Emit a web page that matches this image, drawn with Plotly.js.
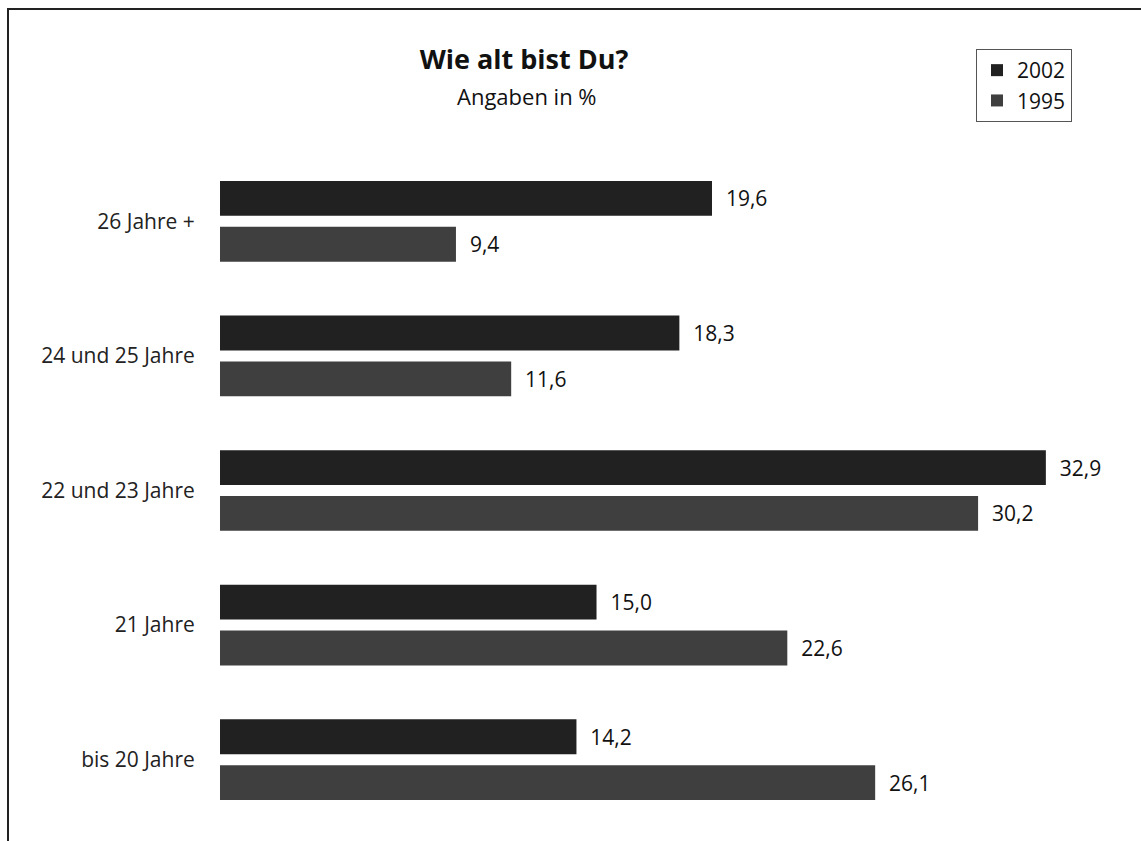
<!DOCTYPE html>
<html>
<head>
<meta charset="utf-8">
<script src="https://cdn.plot.ly/plotly-3.0.1.min.js"></script>
<style>
  html, body { margin: 0; padding: 0; background: #fff; }
  #wrap { position: relative; width: 1141px; height: 841px; overflow: hidden; }
  #chart { position: absolute; left: 0; top: 0; width: 1141px; height: 841px; }
  #frame { position: absolute; left: 7px; top: 8px; width: 1140px; height: 840px;
           border-top: 2px solid #222; border-left: 2px solid #222; pointer-events: none; }
</style>
</head>
<body>
<div id="wrap">
  <div id="chart"></div>
  <div id="frame"></div>
</div>
<script>
// Data
const categories = ["26 Jahre +", "24 und 25 Jahre", "22 und 23 Jahre", "21 Jahre", "bis 20 Jahre"];
const values2002 = [19.6, 18.3, 32.9, 15.0, 14.2];
const values1995 = [9.4, 11.6, 30.2, 22.6, 26.1];
const seriesNames = ["2002", "1995"];

const fmt = v => "\u00a0\u00a0" + v.toFixed(1).replace(".", ",");
const FONT = "Open Sans, Noto Sans, sans-serif";

const traces = [
  {
    type: "bar", orientation: "h", name: seriesNames[0], legendgroup: "a",
    y: categories, x: values2002,
    text: values2002.map(fmt), textposition: "outside", cliponaxis: false,
    textfont: { family: FONT, size: 21, color: "#111" },
    marker: { color: "#212121" }, hoverinfo: "skip"
  },
  {
    type: "bar", orientation: "h", name: seriesNames[1], legendgroup: "b",
    y: categories, x: values1995,
    text: values1995.map(fmt), textposition: "outside", cliponaxis: false,
    textfont: { family: FONT, size: 21, color: "#111" },
    marker: { color: "#3f3f3f" }, hoverinfo: "skip"
  }
];

const layout = {
  width: 1141, height: 841,
  margin: { l: 220, r: 0, t: 153.6, b: 13.6, autoexpand: false },
  paper_bgcolor: "#fff", plot_bgcolor: "#fff",
  barmode: "group", bargap: 0.319, bargroupgap: 0.239,
  showlegend: true,
  font: { family: FONT, color: "#222" },
  title: {
    text: "<b>Wie alt bist Du?</b>",
    font: { family: FONT, size: 27, color: "#111" },
    xref: "container", yref: "container",
    x: 524 / 1141, xanchor: "center",
    y: 1 - 60 / 841, yanchor: "middle"
  },
  annotations: [{
    text: "Angaben in %", showarrow: false,
    xref: "paper", yref: "paper",
    x: (527 - 220) / 921, y: (827.4 - 96) / 673.8,
    xanchor: "center", yanchor: "middle",
    font: { family: FONT, size: 22, color: "#111" }
  }],
  legend: {
    xref: "container", yref: "container",
    x: 976 / 1141, y: 1 - 49 / 841, xanchor: "left", yanchor: "top",
    bordercolor: "#555", borderwidth: 1, bgcolor: "#fff",
    font: { family: FONT, size: 21, color: "#111" },
    traceorder: "normal", tracegroupgap: 17, itemwidth: 30
  },
  xaxis: { visible: false, range: [0, 36.69], fixedrange: true },
  yaxis: {
    type: "category", range: [4.5, -0.5],
    showgrid: false, zeroline: false, showline: false,
    ticks: "outside", ticklen: 20, tickcolor: "rgba(0,0,0,0)",
    tickfont: { family: FONT, size: 21, color: "#222" },
    fixedrange: true
  }
};

Plotly.newPlot("chart", traces, layout, { displayModeBar: false, staticPlot: true });
</script>
</body>
</html>
